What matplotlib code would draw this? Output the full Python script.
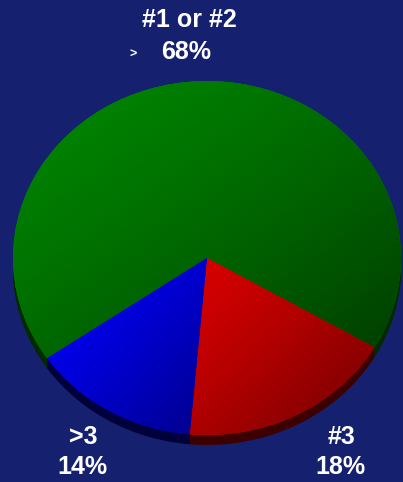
import numpy as np
import matplotlib
matplotlib.use("Agg")
import matplotlib.pyplot as plt
from matplotlib.colors import to_rgb

# Slice data
categories = ["#1 or #2", "#3", ">3"]
shares = [68, 18, 14]
top_light = ["#008800", "#d80000", "#0000ff"]
top_dark = ["#003c00", "#6a0000", "#000088"]
side_colors = ["#002a00", "#3c0000", "#00003a"]

bg = "#15216f"
W, H = 403, 482
fig = plt.figure(figsize=(W / 100, H / 100), dpi=100, facecolor=bg)
ax = fig.add_axes([0, 0, 1, 1])
ax.set_facecolor(bg)

# pixel geometry of the elliptical pie
cx, cy = 207, 258          # centre (pixels from top-left)
rx, ry = 194, 177          # radii in pixels
depth = 10                 # extrusion depth in pixels

xlim = (-cx / rx, (W - cx) / rx)
ylim = (-(H - cy) / ry, cy / ry)

start = -145.5
# extruded side: stacked, shifted copies
for k in range(depth, 0, -1):
    ax.pie(shares, radius=1, center=(0, -k / ry), startangle=start,
           counterclock=False, colors=side_colors,
           wedgeprops=dict(linewidth=0, antialiased=True))

# top face
wedges, _ = ax.pie(shares, radius=1, center=(0, 0), startangle=start,
                   counterclock=False, colors=top_light,
                   wedgeprops=dict(linewidth=0))

# shading gradient inside each wedge (upper-left light, lower-right dark)
n = 300
for w, c0, c1 in zip(wedges, top_light, top_dark):
    verts = w.get_path().vertices
    x0, x1 = verts[:, 0].min(), verts[:, 0].max()
    y0, y1 = verts[:, 1].min(), verts[:, 1].max()
    GX, GY = np.meshgrid(np.linspace(0, 1, n), np.linspace(1, 0, n))
    t = np.clip((GX + (1 - GY)) / 2, 0, 1) ** 1.3
    a, b = np.array(to_rgb(c0)), np.array(to_rgb(c1))
    img = a[None, None, :] * (1 - t[..., None]) + b[None, None, :] * t[..., None]
    im = ax.imshow(img, extent=(x0, x1, y0, y1), origin="upper",
                   interpolation="bilinear", zorder=w.get_zorder() + 0.1)
    im.set_clip_path(w)

ax.set_aspect("auto")
ax.set_xlim(*xlim)
ax.set_ylim(*ylim)
ax.axis("off")


def px(x, y):
    return ((x - cx) / rx, (cy - y) / ry)


font = dict(color="white", fontweight="bold", family=["Liberation Sans", "DejaVu Sans"],
            fontsize=18, ha="center", va="center", zorder=10)
label_pos = [((189, 20), (186, 52)), ((342, 437), (340, 467)), ((83, 437), (82, 467))]
for cat, val, (p1, p2) in zip(categories, shares, label_pos):
    ax.text(*px(*p1), cat, **font)
    ax.text(*px(*p2), f"{val}%", **font)
ax.text(*px(133, 55), ">", color="white", fontweight="bold",
        family=["Liberation Sans", "DejaVu Sans"], fontsize=9,
        ha="center", va="center", zorder=10)

fig.savefig("out.png", dpi=100, facecolor=bg)
